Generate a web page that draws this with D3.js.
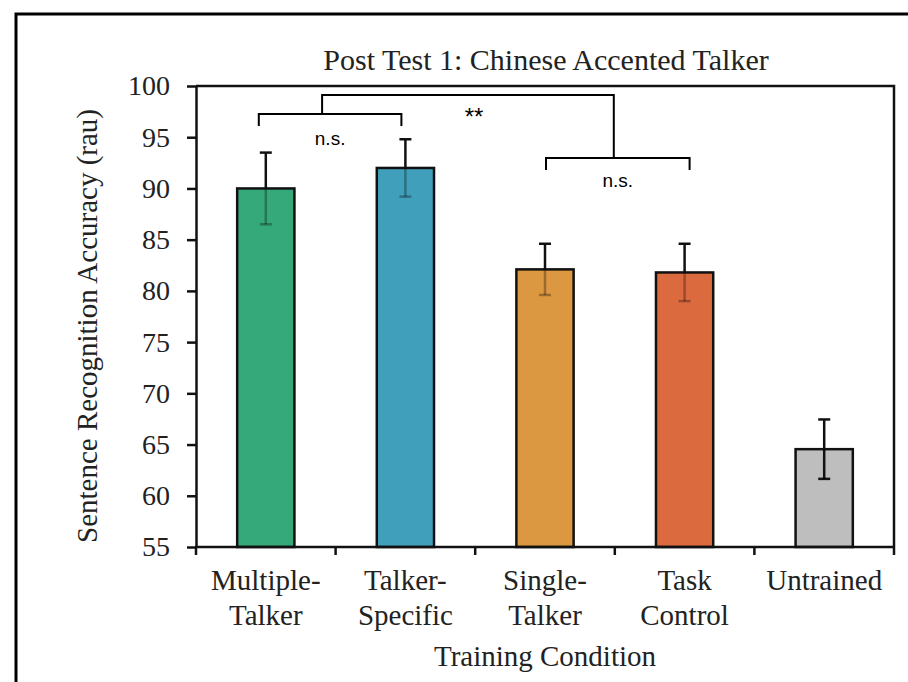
<!DOCTYPE html>
<html>
<head>
<meta charset="utf-8">
<script src="https://cdn.jsdelivr.net/npm/d3@7"></script>
<style>
  body { margin: 0; background: #fff; }
  svg { display: block; }
</style>
</head>
<body>
<div id="chart"></div>
<script>
// data
const categories = ["Multiple-Talker", "Talker-Specific", "Single-Talker", "Task Control", "Untrained"];
const tickLines = [["Multiple-", "Talker"], ["Talker-", "Specific"], ["Single-", "Talker"], ["Task", "Control"], ["Untrained"]];
const means = [90.0, 92.0, 82.1, 81.8, 64.55];
const errors = [3.5, 2.8, 2.5, 2.8, 2.9];
const colors = ["#35a979", "#409fbb", "#dc9841", "#dc6a3f", "#bebebe"];
const yTicks = [55, 60, 65, 70, 75, 80, 85, 90, 95, 100];

// significance brackets (y in rau)
const pairs = [
  { a: 0, b: 1, top: 97.27, leg: 96.1, label: "n.s.", labelY: 94.2 },
  { a: 2, b: 3, top: 92.97, leg: 91.8, label: "n.s.", labelY: 90.1 }
];
const overall = { top: 99.12, label: "**", labelY: 96.2 };

const width = 908, height = 682;
const plotL = 196, plotR = 894, plotT = 86, plotB = 547;
const serif = "'Liberation Serif', 'Times New Roman', serif";
const sans = "'Liberation Sans', Arial, sans-serif";

const svg = d3.select("#chart")
  .append("svg")
  .attr("width", width)
  .attr("height", height);

// outer frame
svg.append("path")
  .attr("d", `M16,${height} V14 H${width}`)
  .attr("fill", "none")
  .attr("stroke", "#000")
  .attr("stroke-width", 3);

const x = d3.scaleBand()
  .domain(categories)
  .range([plotL, plotR])
  .paddingInner(0.59)
  .paddingOuter(0.295);

const y = d3.scaleLinear()
  .domain([55, 100])
  .range([plotB, plotT]);

// title
svg.append("text")
  .attr("x", (plotL + plotR) / 2 + 1)
  .attr("y", 70)
  .attr("text-anchor", "middle")
  .attr("font-family", serif)
  .attr("font-size", 30)
  .attr("fill", "#222")
  .text("Post Test 1: Chinese Accented Talker");

// bars
const cx = i => x(categories[i]) + x.bandwidth() / 2;

svg.selectAll(".bar")
  .data(means)
  .join("rect")
  .attr("class", "bar")
  .attr("x", (d, i) => x(categories[i]))
  .attr("y", d => y(d))
  .attr("width", x.bandwidth())
  .attr("height", d => y(55) - y(d))
  .attr("fill", (d, i) => colors[i])
  .attr("stroke", "#111")
  .attr("stroke-width", 2.5);

// error bars: part inside the bar is faint
means.forEach((m, i) => {
  const g = svg.append("g").attr("stroke-width", 2.5);
  g.append("line")
    .attr("x1", cx(i)).attr("x2", cx(i))
    .attr("y1", y(m + errors[i])).attr("y2", y(m))
    .attr("stroke", "#111");
  g.append("line")
    .attr("x1", cx(i) - 6).attr("x2", cx(i) + 6)
    .attr("y1", y(m + errors[i])).attr("y2", y(m + errors[i]))
    .attr("stroke", "#111");
  const inner = g.append("g").attr("stroke", "#000").attr("stroke-opacity", i == 4 ? 0.9 : 0.3);
  inner.append("line")
    .attr("x1", cx(i)).attr("x2", cx(i))
    .attr("y1", y(m)).attr("y2", y(m - errors[i]));
  inner.append("line")
    .attr("x1", cx(i) - 6).attr("x2", cx(i) + 6)
    .attr("y1", y(m - errors[i])).attr("y2", y(m - errors[i]));
});

// box: top and right
svg.append("path")
  .attr("d", `M${plotL},${plotT} H${plotR} V${plotB}`)
  .attr("fill", "none")
  .attr("stroke", "#111")
  .attr("stroke-width", 2.5);

// y axis
const yAxis = svg.append("g")
  .attr("transform", `translate(${plotL},0)`)
  .call(d3.axisLeft(y).tickValues(yTicks).tickSize(9).tickSizeOuter(0).tickPadding(17));
yAxis.select(".domain").attr("stroke", "#111").attr("stroke-width", 2.5);
yAxis.selectAll(".tick line").attr("stroke", "#111").attr("stroke-width", 2.5);
yAxis.selectAll(".tick text")
  .attr("font-family", serif)
  .attr("font-size", 28)
  .attr("fill", "#222");

// x axis line and ticks at band edges
svg.append("line")
  .attr("x1", plotL - 1).attr("x2", plotR + 1)
  .attr("y1", plotB).attr("y2", plotB)
  .attr("stroke", "#111")
  .attr("stroke-width", 2.5);

const edges = categories.map(c => x(c) - (x.step() - x.bandwidth()) / 2).concat([plotR]);
svg.selectAll(".xtick")
  .data(edges)
  .join("line")
  .attr("class", "xtick")
  .attr("x1", d => d).attr("x2", d => d)
  .attr("y1", plotB).attr("y2", plotB + 8)
  .attr("stroke", "#111")
  .attr("stroke-width", 2.5);

const labels = svg.selectAll(".xlabel")
  .data(tickLines)
  .join("text")
  .attr("class", "xlabel")
  .attr("text-anchor", "middle")
  .attr("font-family", serif)
  .attr("font-size", 29)
  .attr("fill", "#222");
labels.selectAll("tspan")
  .data((d, i) => d.map(t => ({ t, i })))
  .join("tspan")
  .attr("x", d => cx(d.i))
  .attr("y", (d, j) => 590 + j * 35)
  .text(d => d.t);

// axis titles
svg.append("text")
  .attr("x", (plotL + plotR) / 2)
  .attr("y", 666)
  .attr("text-anchor", "middle")
  .attr("font-family", serif)
  .attr("font-size", 29)
  .attr("fill", "#222")
  .text("Training Condition");

svg.append("text")
  .attr("transform", "translate(97,326) rotate(-90)")
  .attr("text-anchor", "middle")
  .attr("font-family", serif)
  .attr("font-size", 29)
  .attr("fill", "#222")
  .text("Sentence Recognition Accuracy (rau)");

// significance brackets
const br = svg.append("g")
  .attr("fill", "none")
  .attr("stroke", "#000")
  .attr("stroke-width", 2);

const legShift = [[-7, -4], [1, 5]];
const mids = [];
pairs.forEach((p, k) => {
  const x1 = cx(p.a) + legShift[k][0], x2 = cx(p.b) + legShift[k][1];
  mids.push((x1 + x2) / 2);
  br.append("path")
    .attr("d", `M${x1},${y(p.leg)} V${y(p.top)} H${x2} V${y(p.leg)}`);
  svg.append("text")
    .attr("x", (x1 + x2) / 2)
    .attr("y", y(p.labelY))
    .attr("text-anchor", "middle")
    .attr("font-family", sans)
    .attr("font-size", 19)
    .text(p.label);
});

br.append("path")
  .attr("d", `M${mids[0] - 8},${y(pairs[0].top)} V${y(overall.top)} H${mids[1] - 4} V${y(pairs[1].top)}`);
svg.append("text")
  .attr("x", 474)
  .attr("y", y(overall.labelY))
  .attr("text-anchor", "middle")
  .attr("font-family", sans)
  .attr("font-size", 24)
  .text(overall.label);
</script>
</body>
</html>
